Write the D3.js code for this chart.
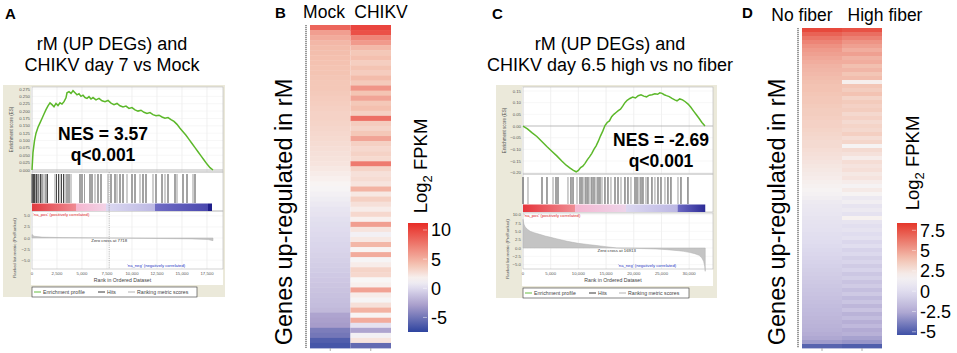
<!DOCTYPE html>
<html>
<head>
<meta charset="utf-8">
<script src="https://cdn.jsdelivr.net/npm/d3@7"></script>
<style>
body { margin: 0; background: #fff; }
svg { display: block; font-family: "Liberation Sans", Arial, sans-serif; }
</style>
</head>
<body>
<svg id="fig" width="957" height="353"></svg>
<script>
// ---- panel A : GSEA rM (UP DEGs) vs CHIKV day 7 ----
const esA = [[0,0],[100,0.06],[250,0.1],[400,0.125],[600,0.145],[800,0.16],[1000,0.175],[1200,0.19],[1400,0.205],[1600,0.218],[1800,0.228],[2000,0.222],[2200,0.215],[2400,0.226],[2600,0.219],[2800,0.228],[3000,0.224],[3200,0.232],[3400,0.245],[3500,0.262],[3700,0.266],[3900,0.26],[4100,0.269],[4300,0.262],[4500,0.255],[4700,0.259],[4900,0.25],[5100,0.254],[5300,0.246],[5500,0.243],[5700,0.249],[5900,0.241],[6100,0.246],[6400,0.238],[6700,0.243],[7000,0.235],[7300,0.232],[7600,0.236],[7900,0.227],[8200,0.222],[8500,0.226],[8800,0.218],[9100,0.214],[9400,0.217],[9700,0.209],[10000,0.212],[10300,0.204],[10600,0.2],[10900,0.203],[11200,0.196],[11500,0.192],[11800,0.195],[12100,0.188],[12400,0.184],[12700,0.186],[13000,0.18],[13300,0.176],[13600,0.178],[13900,0.171],[14200,0.165],[14500,0.155],[14800,0.142],[15100,0.13],[15400,0.118],[15700,0.104],[16000,0.09],[16300,0.076],[16600,0.062],[16900,0.048],[17200,0.034],[17500,0.02],[17800,0.008],[18100,0]];
const hitsA = [0,50,150,250,350,450,600,700,850,1000,1200,1400,1550,2300,2450,2650,2800,2950,3150,3300,3500,3700,3900,4800,5000,5250,5800,6000,6300,6600,6900,7600,7900,8300,8500,8800,9100,9500,10000,10300,10800,11100,11400,12100,12400,13000,13300,13600,14300,14500,15100,15500,16100,16300];
const metricA = [[0,0.8],[200,0.4],[1000,0.2],[3000,0.1],[7718,0],[12000,-0.1],[16000,-0.2],[17600,-0.35],[18100,-0.6]];
const esTicksA = [0,0.025,0.05,0.075,0.1,0.125,0.15,0.175,0.2,0.225,0.25,0.275];
const rankTicksA = [0,2500,5000,7500,10000,12500,15000,17500];
const metricTicksA = [5,2.5,0,-2.5,-5];

// ---- panel C : GSEA rM (UP DEGs) vs CHIKV day 6.5 high vs no fiber ----
const esC = [[0,0],[800,-0.012],[1600,-0.028],[2500,-0.045],[3400,-0.066],[4300,-0.088],[5200,-0.108],[6100,-0.128],[7000,-0.15],[7800,-0.168],[8500,-0.18],[9100,-0.19],[9600,-0.196],[10000,-0.19],[10400,-0.178],[10800,-0.172],[11200,-0.16],[11600,-0.145],[12000,-0.132],[12400,-0.118],[12800,-0.1],[13200,-0.085],[13600,-0.065],[14000,-0.042],[14400,-0.022],[14800,0.002],[15200,0.015],[15600,0.022],[16000,0.04],[16400,0.05],[16800,0.058],[17200,0.066],[17600,0.072],[18000,0.085],[18400,0.1],[18800,0.11],[19300,0.118],[19800,0.124],[20300,0.12],[20800,0.13],[21300,0.134],[21800,0.128],[22300,0.125],[22800,0.132],[23300,0.134],[23800,0.138],[24300,0.136],[24700,0.142],[25100,0.14],[25500,0.134],[25900,0.13],[26400,0.126],[26900,0.118],[27400,0.112],[27800,0.108],[28300,0.116],[28800,0.112],[29300,0.104],[29800,0.094],[30300,0.08],[30800,0.064],[31300,0.048],[31800,0.032],[32300,0.015],[32850,0]];
const hitsC = [0,900,3430,4330,5420,5960,6320,8120,8660,9030,9750,10290,10650,11010,11370,11730,12090,12450,12820,13180,13540,13900,14260,14800,15340,15880,16610,17150,17690,18410,18950,19490,20220,20580,20940,21300,21660,22200,22560,23280,23820,24370,24910,25630,26170,26710,27980,28520,29780];
const metricC = [[0,8.6],[150,7.2],[400,6.3],[800,5.6],[1300,5.0],[2000,4.6],[3000,4.1],[4000,3.6],[5000,3.2],[6000,2.8],[7000,2.4],[8000,2.0],[9000,1.7],[10000,1.4],[11000,1.2],[12000,1.0],[13000,0.8],[14000,0.6],[15000,0.4],[16000,0.2],[16913,0],[18000,-0.05],[20000,-0.1],[22000,-0.2],[24000,-0.3],[26000,-0.5],[28000,-0.8],[29000,-1.0],[30000,-1.3],[31000,-1.7],[31800,-2.2],[32300,-3.0],[32600,-4.0],[32800,-5.5],[32900,-7.0]];
const esTicksC = [0.15,0.1,0.05,0,-0.05,-0.1,-0.15,-0.2];
const rankTicksC = [0,5000,10000,15000,20000,25000,30000];
const metricTicksC = [10,7.5,5,2.5,0,-2.5,-5];

// ---- panel B : heatmap Mock / CHIKV ----
const colsB = ["Mock", "CHIKV"];
const mockVals = [8.5,5.8,5.2,4.6,4.4,4.3,4.2,4.1,4.0,4.0,3.9,3.8,3.8,3.7,3.6,3.5,3.4,3.3,3.3,3.2,3.1,3.0,2.9,2.8,2.7,2.6,2.5,2.4,2.2,2.0,1.8,1.6,1.4,1.2,1.0,0.8,0.6,0.5,0.3,0.2,0.1,0.0,-0.1,-0.2,-0.3,-0.4,-0.5,-0.6,-0.7,-0.8,-0.9,-1.0,-1.1,-1.2,-1.3,-1.4,-1.6,-2.6,-2.8,-3.0,-4.6,-4.9,-6.2,-6.6];
const chikvVals = [10,9.5,7,6,4.5,3.8,4.2,3.5,4.0,3.6,4.4,3.7,6.2,4.0,5.5,3.8,4.2,3.4,8,3.6,3.2,3.8,5.5,3.4,3.0,3.3,2.9,7.5,3.2,2.6,2.8,2.4,4.8,2.2,3.4,2.6,2.0,3.0,1.8,5.8,2.4,1.2,2.2,4.6,1.6,5.2,1.4,2.0,3.2,3.0,1.5,1.8,5.6,2.0,1.4,2.6,4.8,1.6,5.2,0.4,-2.6,1.2,2.4,-5.5];
const legendTicksB = [10, 5, 0, -5];

// ---- panel D : heatmap No fiber / High fiber ----
const colsD = ["No fiber", "High fiber"];
const noFiberVals = [7.8,7.0,6.4,5.9,5.5,5.2,5.0,4.8,4.6,4.4,4.3,4.2,4.1,4.0,3.9,3.9,3.8,3.7,3.7,3.6,3.5,3.5,3.4,3.3,3.3,3.2,3.1,3.0,2.9,2.9,2.8,2.7,2.6,2.5,2.4,2.3,2.2,2.1,2.0,1.9,1.8,1.6,1.4,1.1,0.9,0.8,0.7,0.6,0.5,0.4,0.3,0.2,0.1,0.0,-0.1,-0.2,-0.3,-0.4,-0.5,-0.6,-0.7,-0.8,-0.9,-1.0,-1.1,-1.2,-1.3,-1.4,-1.5,-1.6,-1.7,-1.8,-1.9,-2.0,-2.1,-2.2,-2.4,-2.6,-3.0,-4.8];
const highFiberVals = [7.5,6.6,6.0,5.4,5.0,4.6,5.0,4.4,4.6,4.0,4.3,3.8,4.1,2.0,3.8,3.5,3.9,3.2,3.6,3.3,3.5,3.0,3.3,2.9,3.2,3.0,3.4,2.8,3.1,1.8,2.9,2.6,2.1,2.8,2.5,2.7,2.3,2.5,2.1,1.7,2.2,1.8,1.0,1.4,0.6,1.0,0.4,1.9,0.6,0.2,0.5,0.0,0.3,-0.3,0.1,-0.5,-0.2,-0.7,-0.4,-0.9,-0.5,-1.1,-0.7,-1.3,-0.9,-1.5,-1.0,-1.7,-1.2,-1.9,-1.3,-2.1,-1.6,-2.3,-1.8,-2.5,-2.2,-2.8,-3.2,-5.0];
const legendTicksD = [7.5, 5, 2.5, 0, -2.5, -5];

const svg = d3.select("#fig");
const defs = svg.append("defs");
let gradId = 0;

function gradient(colors, vertical) {
  const id = "grad" + (gradId++);
  const lg = defs.append("linearGradient").attr("id", id)
    .attr("x1", 0).attr("y1", vertical ? 1 : 0)
    .attr("x2", vertical ? 0 : 1).attr("y2", 0);
  colors.forEach((c, i) => lg.append("stop")
    .attr("offset", i / (colors.length - 1)).attr("stop-color", c));
  return "url(#" + id + ")";
}

// panel letters
[["A", 5, 19], ["B", 275, 18], ["C", 492, 19], ["D", 742, 18]].forEach(d => {
  svg.append("text").attr("x", d[1]).attr("y", d[2])
    .attr("font-size", 15).attr("font-weight", "bold").text(d[0]);
});

function gsea(o) {
  const g = svg.append("g");
  const f = o.frame;
  g.append("rect").attr("x", f[0]).attr("y", f[1])
    .attr("width", f[2] - f[0]).attr("height", f[3] - f[1]).attr("fill", "#ebe9da");
  g.append("rect").attr("x", o.left - 1).attr("y", o.esTop)
    .attr("width", o.right - o.left + 1).attr("height", o.white - o.esTop).attr("fill", "#fff");

  const x = d3.scaleLinear().domain([0, o.n]).range([o.left, o.right]);
  const yEs = d3.scaleLinear().domain(o.esDomain).range(o.esRange);
  const yM = d3.scaleLinear().domain(o.mDomain).range([o.rankBottom, o.rankTop]);

  // grid
  g.selectAll(null).data(o.rankTicks.slice(1)).join("line")
    .attr("x1", d => x(d)).attr("x2", d => x(d))
    .attr("y1", o.esTop).attr("y2", o.esBottom)
    .attr("stroke", "#e6e6e6").attr("stroke-width", 0.6);
  g.selectAll(null).data(o.rankTicks.slice(1)).join("line")
    .attr("x1", d => x(d)).attr("x2", d => x(d))
    .attr("y1", o.rankTop).attr("y2", o.rankBottom)
    .attr("stroke", "#e6e6e6").attr("stroke-width", 0.6);
  g.selectAll(null).data(o.esTicks).join("line")
    .attr("x1", o.left).attr("x2", o.right)
    .attr("y1", d => yEs(d)).attr("y2", d => yEs(d))
    .attr("stroke", d => d === 0 ? "#aaa" : "#efefef").attr("stroke-width", d => d === 0 ? 0.8 : 0.5);
  g.selectAll(null).data(o.mTicks).join("line")
    .attr("x1", o.left).attr("x2", o.right)
    .attr("y1", d => yM(d)).attr("y2", d => yM(d))
    .attr("stroke", "#efefef").attr("stroke-width", 0.5);

  // section borders
  [[o.esTop, o.esBottom], [o.esBottom, o.barBottom], [o.rankTop, o.rankBottom]].forEach(b => {
    g.append("rect").attr("x", o.left).attr("y", b[0])
      .attr("width", o.right - o.left).attr("height", b[1] - b[0])
      .attr("fill", "none").attr("stroke", "#b5b5b5").attr("stroke-width", 0.6);
  });

  // ES axis
  g.selectAll(null).data(o.esTicks).join("text")
    .attr("x", o.left - 2).attr("y", d => yEs(d) + 1.5)
    .attr("text-anchor", "end").attr("font-size", 4.3).attr("fill", "#555")
    .text(d => d3.format(o.esFmt)(d));
  g.append("text").attr("transform", `translate(${f[0] + 10},${(o.esTop + o.esBottom) / 2}) rotate(-90)`)
    .attr("text-anchor", "middle").attr("font-size", 4.5).attr("fill", "#555")
    .text("Enrichment score (ES)");

  // hits
  g.selectAll(null).data(o.hits).join("line")
    .attr("x1", d => x(d)).attr("x2", d => x(d))
    .attr("y1", o.hitTop).attr("y2", o.hitBottom)
    .attr("stroke", "#111").attr("stroke-width", 0.9)
    .attr("opacity", (d, i) => i % 3 === 1 ? 0.45 : 0.85);

  // ranked list colour bar
  o.bar.forEach(s => {
    g.append("rect").attr("x", x(s[0])).attr("y", o.barTop)
      .attr("width", x(s[1]) - x(s[0])).attr("height", o.barBottom - o.barTop)
      .attr("fill", gradient([s[2], s[3]], false));
  });

  g.append("text").attr("x", o.left + 1).attr("y", o.barBottom + 4.5)
    .attr("font-size", 4.2).attr("fill", "#e02424").text("'na_pos' (positively correlated)");
  g.append("text").attr("x", o.negX).attr("y", o.rankBottom - 2)
    .attr("font-size", 4.2).attr("fill", "#2634c4").text("'na_neg' (negatively correlated)");

  // ranked metric
  g.append("path").datum(o.metric)
    .attr("d", d3.area().x(d => x(d[0])).y0(yM(0)).y1(d => yM(d[1])))
    .attr("fill", "#c4c4c4").attr("stroke", "#b0b0b0").attr("stroke-width", 0.5);
  if (o.zeroLine) {
    g.append("line").attr("x1", x(o.zeroCross)).attr("x2", x(o.zeroCross))
      .attr("y1", o.esBottom).attr("y2", o.rankBottom)
      .attr("stroke", "#888").attr("stroke-width", 0.6).attr("stroke-dasharray", "1.2,1");
  }
  g.append("text").attr("x", x(o.zeroCross)).attr("y", yM(0) + 4)
    .attr("text-anchor", "middle").attr("font-size", 4.3).attr("fill", "#333")
    .text("Zero cross at " + o.zeroCross);
  g.selectAll(null).data(o.mTicks).join("text")
    .attr("x", o.left - 2).attr("y", d => yM(d) + 1.5)
    .attr("text-anchor", "end").attr("font-size", 4.3).attr("fill", "#555")
    .text(d => d3.format(".1f")(d));
  g.append("text").attr("transform", `translate(${f[0] + 13},${(o.rankTop + o.rankBottom) / 2 + 8}) rotate(-90)`)
    .attr("text-anchor", "middle").attr("font-size", 4.3).attr("fill", "#555")
    .text("Ranked list metric (PreRanked)");

  // x axis
  g.selectAll(null).data(o.rankTicks).join("text")
    .attr("x", d => x(d)).attr("y", o.rankBottom + 6)
    .attr("text-anchor", "middle").attr("font-size", 4.3).attr("fill", "#555")
    .text(d3.format(","));
  g.append("text").attr("x", (o.left + o.right) / 2 - 5).attr("y", o.rankBottom + 13)
    .attr("text-anchor", "middle").attr("font-size", 5.2).attr("fill", "#444")
    .text("Rank in Ordered Dataset");

  // legend box
  const lg = o.legend;
  g.append("rect").attr("x", lg[0]).attr("y", lg[1]).attr("width", lg[2] - lg[0]).attr("height", lg[3] - lg[1])
    .attr("fill", "#fff").attr("stroke", "#333").attr("stroke-width", 0.6);
  const ly = (lg[1] + lg[3]) / 2;
  const items = [["#55b52a", "Enrichment profile", 2], ["#222", "Hits", 66], ["#aaa", "Ranking metric scores", 96]];
  items.forEach(it => {
    g.append("line").attr("x1", lg[0] + it[2]).attr("x2", lg[0] + it[2] + 7)
      .attr("y1", ly).attr("y2", ly).attr("stroke", it[0]).attr("stroke-width", 0.9);
    g.append("text").attr("x", lg[0] + it[2] + 9).attr("y", ly + 2)
      .attr("font-size", 5.2).attr("fill", "#444").text(it[1]);
  });

  // ES curve
  g.append("path").datum(o.es)
    .attr("d", d3.line().x(d => x(d[0])).y(d => yEs(d[1])))
    .attr("fill", "none").attr("stroke", "#5cb82a").attr("stroke-width", 1.5);

  // titles and stats
  o.title.forEach((t, i) => {
    svg.append("text").attr("x", o.titleX).attr("y", 50 + i * 21)
      .attr("text-anchor", "middle").attr("font-size", 18).text(t);
  });
  svg.append("text").attr("x", o.nesX).attr("y", o.nesY)
    .attr("text-anchor", "middle").attr("font-size", 17.5).attr("font-weight", "bold").text(o.nes);
  svg.append("text").attr("x", o.nesX).attr("y", o.nesY + 21)
    .attr("text-anchor", "middle").attr("font-size", 17.5).attr("font-weight", "bold").text("q<0.001");
}

gsea({
  frame: [3, 85, 225, 297], left: 32, right: 223, white: 285, n: 19100,
  esTop: 87, esBottom: 172, esDomain: [0, 0.275], esRange: [170, 89], esTicks: esTicksA, esFmt: ".3f",
  hitTop: 174, hitBottom: 203, barTop: 203.5, barBottom: 211,
  rankTop: 211, rankBottom: 269, mDomain: [-7, 6.1], mTicks: metricTicksA,
  rankTicks: rankTicksA, es: esA, hits: hitsA, metric: metricA,
  bar: [[0, 4400, "#e13a3f", "#ef8a92"], [4400, 7400, "#f5b6cf", "#f2d2e6"], [7400, 12300, "#dcd9f1", "#bcb8e3"],
        [12300, 17600, "#706cc5", "#4a48ae"], [17600, 18000, "#1f1e8a", "#1f1e8a"]],
  negX: 127, zeroCross: 7718, zeroLine: true, legend: [32, 287, 197, 297],
  title: ["rM (UP DEGs) and", "CHIKV day 7 vs Mock"], titleX: 112,
  nes: "NES = 3.57", nesX: 103, nesY: 140
});

gsea({
  frame: [496, 85, 717, 298], left: 523, right: 713, white: 286, n: 34300,
  esTop: 87, esBottom: 174, esDomain: [-0.2, 0.15], esRange: [172.7, 91], esTicks: esTicksC, esFmt: ".2f",
  hitTop: 177, hitBottom: 204, barTop: 204.5, barBottom: 212,
  rankTop: 213, rankBottom: 269, mDomain: [-6.3, 10.5], mTicks: metricTicksC,
  rankTicks: rankTicksC, es: esC, hits: hitsC, metric: metricC,
  bar: [[0, 9400, "#e6353b", "#f08d94"], [9400, 18600, "#f5b8d2", "#eed4e9"], [18600, 27900, "#dcd8f1", "#bcb7e3"],
        [27900, 32900, "#6e6ac4", "#2c2b96"]],
  negX: 618, zeroCross: 16913, zeroLine: false, legend: [523, 288, 689, 298],
  title: ["rM (UP DEGs) and", "CHIKV day 6.5 high vs no fiber"], titleX: 610,
  nes: "NES = -2.69", nesX: 661, nesY: 146
});

function heatmap(o) {
  const g = svg.append("g");
  const rows = d3.range(o.values[0].length);
  const y = d3.scaleBand().domain(rows).range([o.top, o.bottom]);
  const x = d3.scaleBand().domain(o.names).range([o.left, o.right]);

  o.values.forEach((vals, j) => {
    g.selectAll(null).data(vals).join("rect")
      .attr("x", x(o.names[j])).attr("y", (d, i) => y(i))
      .attr("width", x.bandwidth()).attr("height", y.bandwidth() + 0.4)
      .attr("fill", d => o.color(d));
  });

  // column headers are wider than the columns, spread them out
  g.selectAll(null).data(o.names).join("text")
    .attr("x", (d, i) => o.labelX[i]).attr("y", o.labelY)
    .attr("text-anchor", "middle").attr("font-size", 17.5).text(d => d);

  // row dendrogram edge
  g.append("line").attr("x1", o.left - 4).attr("x2", o.left - 4)
    .attr("y1", o.top).attr("y2", o.bottom)
    .attr("stroke", "#999").attr("stroke-width", 2).attr("stroke-dasharray", "1.2,0.8");
  g.selectAll(null).data(o.names).join("line")
    .attr("x1", d => x(d) + x.bandwidth() / 2).attr("x2", d => x(d) + x.bandwidth() / 2)
    .attr("y1", o.bottom).attr("y2", o.bottom + 3).attr("stroke", "#999").attr("stroke-width", 0.8);

  g.append("text").attr("transform", `translate(${o.yLabelX},212) rotate(-90)`)
    .attr("text-anchor", "middle").attr("font-size", 23.5).text("Genes up-regulated in rM");

  const lt = g.append("text").attr("transform", `translate(${o.legX},${o.legTitleY}) rotate(-90)`)
    .attr("text-anchor", "middle").attr("font-size", 18.5);
  lt.append("tspan").text("Log");
  lt.append("tspan").attr("font-size", 13).attr("dy", 5).text("2");
  lt.append("tspan").attr("dy", -5).text(" FPKM");

  // colour key
  const k = o.key;
  const yk = d3.scaleLinear().domain(o.keyDomain).range([k[3], k[1]]);
  const stops = d3.range(0, 21).map(i => o.color(o.keyDomain[0] + (o.keyDomain[1] - o.keyDomain[0]) * i / 20));
  g.append("rect").attr("x", k[0]).attr("y", k[1]).attr("width", k[2] - k[0]).attr("height", k[3] - k[1])
    .attr("fill", gradient(stops, true));
  g.selectAll(null).data(o.keyTicks).join("line")
    .attr("x1", k[2] - 5).attr("x2", k[2] - 1).attr("y1", d => yk(d)).attr("y2", d => yk(d))
    .attr("stroke", "#fff").attr("stroke-opacity", 0.6).attr("stroke-width", 0.8);
  g.selectAll(null).data(o.keyTicks).join("text")
    .attr("x", k[2] + 3).attr("y", d => yk(d) + 6.5)
    .attr("font-size", 18).text(d => d);
}

const colorB = d3.scaleLinear()
  .domain([-7, -3, 0, 1.5, 4, 11])
  .range(["#3b4ea4", "#a79cca", "#dedaed", "#f8f6f6", "#f4c4b3", "#e8302a"]);
const colorD = d3.scaleLinear()
  .domain([-5.5, -2.5, 0, 1.8, 3.8, 8.4])
  .range(["#3b4ea4", "#b3abd4", "#e0ddef", "#f6f3f3", "#f3c6b6", "#e5362a"]);

heatmap({
  names: colsB, values: [mockVals, chikvVals], color: colorB,
  left: 310, right: 391, top: 25, bottom: 348, labelY: 18, labelX: [324, 381],
  yLabelX: 292, legX: 427, legTitleY: 166,
  key: [408, 223, 428, 332], keyDomain: [-7.5, 11.2], keyTicks: legendTicksB
});

heatmap({
  names: colsD, values: [noFiberVals, highFiberVals], color: colorD,
  left: 802, right: 882, top: 28, bottom: 348, labelY: 21, labelX: [802, 885],
  yLabelX: 785, legX: 919, legTitleY: 163,
  key: [897, 223, 917, 335], keyDomain: [-5.4, 8.4], keyTicks: legendTicksD
});
</script>
</body>
</html>
